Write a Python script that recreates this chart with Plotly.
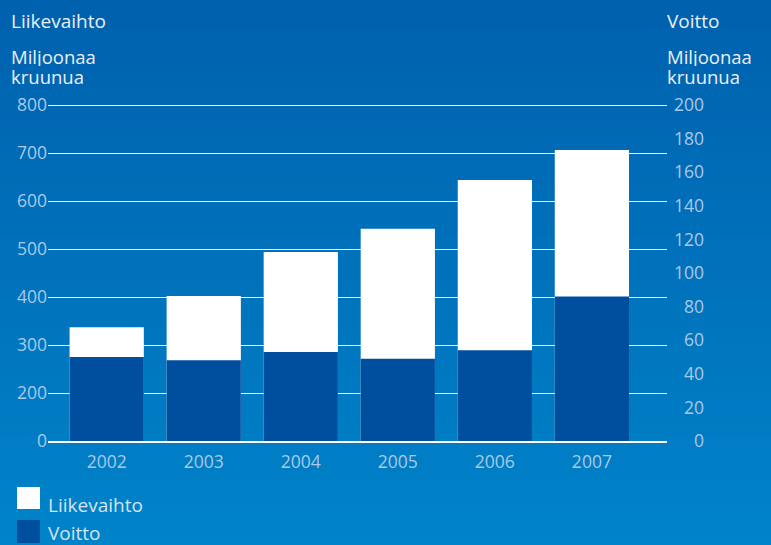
import plotly.graph_objects as go

# ---------------- data ----------------
years = ["2002", "2003", "2004", "2005", "2006", "2007"]
liikevaihto = [337, 402, 494, 542, 644, 706]      # Miljoonaa kruunua (left axis)
voitto = [50, 48, 53, 49, 54, 86]                 # Miljoonaa kruunua (right axis)
left_tickvals = [100, 200, 300, 400, 500, 600, 700, 800]
left_ticktext = ["0", "200", "300", "400", "500", "600", "700", "800"]
right_tickvals = [0, 20, 40, 60, 80, 100, 120, 140, 160, 180, 200]

# ---------------- style ----------------
W, H = 771, 545
FONT = "Open Sans"
TICK_COLOR = "#a9c9e6"
TITLE_COLOR = "#e9f0f8"
WHITE_BAR = "#ffffff"
DARK_BAR = "#004f9f"
TOP_BG = (0, 97, 174)
BOTTOM_BG = (0, 131, 201)


def px_x(x):
    return x / W


def px_y(y):
    return 1 - y / H


fig = go.Figure()
fig.add_trace(go.Bar(x=years, y=liikevaihto, name="Liikevaihto", yaxis="y",
                     marker=dict(color=WHITE_BAR, line=dict(width=0)), width=0.765,
                     showlegend=False, hoverinfo="skip"))
fig.add_trace(go.Bar(x=years, y=voitto, name="Voitto", yaxis="y2",
                     marker=dict(color=DARK_BAR, line=dict(width=0)), width=0.765,
                     showlegend=False, hoverinfo="skip"))

# background gradient
shapes = []
n = 60
for i in range(n):
    t = i / (n - 1)
    c = tuple(round(TOP_BG[k] + (BOTTOM_BG[k] - TOP_BG[k]) * t) for k in range(3))
    shapes.append(dict(type="rect", xref="paper", yref="paper", layer="below",
                       x0=0, x1=1, y0=max(0, 1 - (i + 1) / n - 0.002), y1=1 - i / n,
                       fillcolor="rgb(%d,%d,%d)" % c, line=dict(width=0)))

# legend swatches
shapes.append(dict(type="rect", xref="paper", yref="paper",
                   x0=px_x(17), x1=px_x(40), y0=px_y(509), y1=px_y(487),
                   fillcolor=WHITE_BAR, line=dict(width=0)))
shapes.append(dict(type="rect", xref="paper", yref="paper",
                   x0=px_x(17), x1=px_x(40), y0=px_y(543), y1=px_y(520),
                   fillcolor=DARK_BAR, line=dict(width=0)))

annotations = []


def txt(s, x, y, color=TITLE_COLOR, size=19):
    annotations.append(dict(text=s, x=px_x(x), y=px_y(y), xref="paper", yref="paper",
                            xanchor="left", yanchor="middle", showarrow=False,
                            height=19, valign="middle",
                            font=dict(family=FONT, size=size, color=color)))


txt("Liikevaihto", 9, 21)
txt("Miljoonaa", 9, 56.5, size=18.5)
txt("kruunua", 9, 76, size=18.5)
txt("Voitto", 665, 21)
txt("Miljoonaa", 665, 56.5, size=18.5)
txt("kruunua", 665, 76, size=18.5)
txt("Liikevaihto", 46, 504, color="#d6e3f0")
txt("Voitto", 46, 532, color="#d6e3f0")

fig.update_layout(
    template="none",
    width=W, height=H,
    autosize=False,
    margin=dict(l=0, r=0, t=0, b=0, pad=0),
    paper_bgcolor="rgb(0,112,186)",
    plot_bgcolor="rgba(0,0,0,0)",
    barmode="overlay",
    bargap=0.2,
    showlegend=False,
    hovermode=False,
    shapes=shapes,
    annotations=annotations,
    xaxis=dict(domain=[px_x(48), px_x(667)], type="category", automargin=False,
               range=[-0.605, 5.774], showgrid=False, zeroline=False,
               showline=True, linecolor="white", linewidth=2,
               ticks="", tickfont=dict(family=FONT, size=17.5, color=TICK_COLOR),
               ticklabelstandoff=4),
    yaxis=dict(domain=[px_y(441), px_y(103.08)], range=[100, 804], automargin=False,
               tickvals=left_tickvals, ticktext=left_ticktext,
               showgrid=True, gridcolor="white", gridwidth=1, zeroline=False,
               showline=False, ticks="",
               tickfont=dict(family=FONT, size=17.5, color=TICK_COLOR)),
    yaxis2=dict(overlaying="y", anchor="free", side="left", position=px_x(704),
                automargin=False,
                range=[0, (441 - 103.08) / 1.68], tickvals=right_tickvals,
                showgrid=False, zeroline=False, showline=False, ticks="",
                tickfont=dict(family=FONT, size=17.5, color=TICK_COLOR)),
)

fig.write_html(
    "out.html",
    config={"displayModeBar": False, "staticPlot": True},
    post_script="document.body.style.margin='0px';document.body.style.overflow='hidden';",
)
